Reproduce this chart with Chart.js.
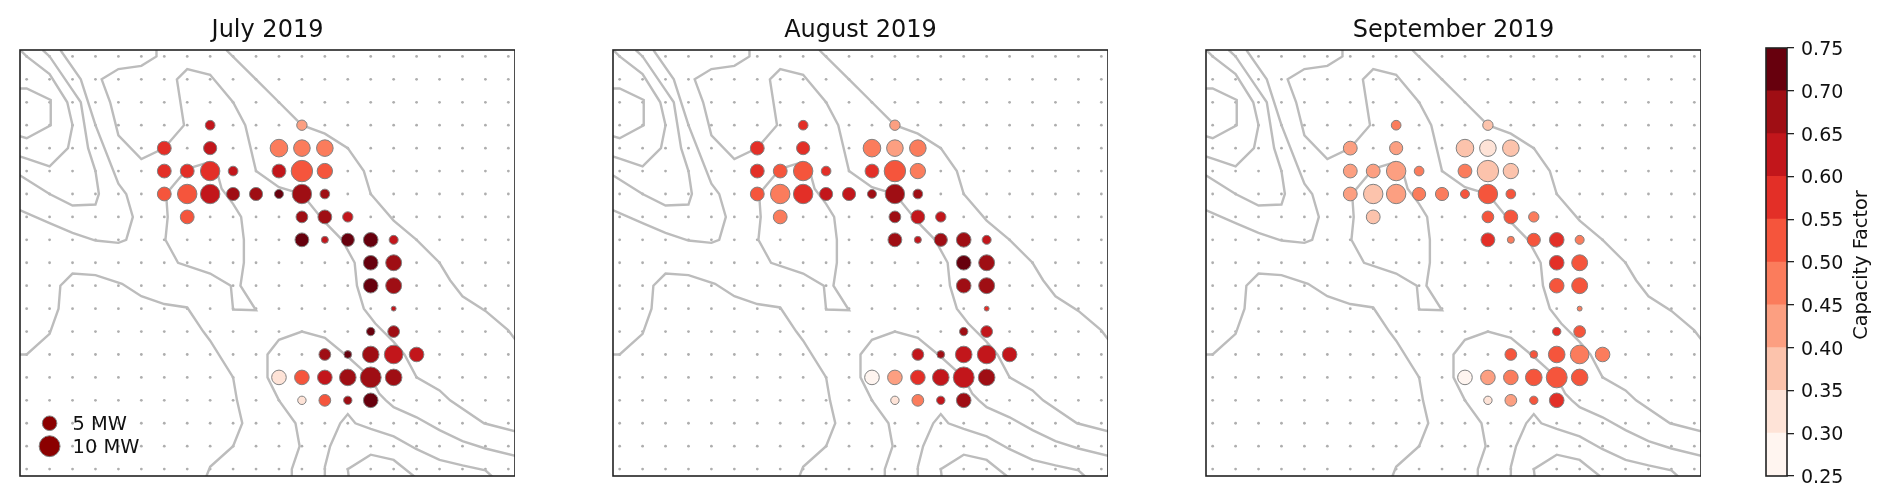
<!DOCTYPE html>
<html>
<head>
<meta charset="utf-8">
<title>Capacity Factor 2019</title>
<script src="https://cdn.jsdelivr.net/npm/chart.js@4"></script>
<style>
  html, body { margin: 0; padding: 0; background: #fff; overflow: hidden; }
  #wrap { position: relative; width: 1892px; height: 503px; }
  canvas { position: absolute; top: 0; }
</style>
</head>
<body>
<div id="wrap">
  <canvas id="julyChart" width="505" height="503" style="left:10px"></canvas>
  <canvas id="augustChart" width="505" height="503" style="left:603px"></canvas>
  <canvas id="septemberChart" width="505" height="503" style="left:1196px"></canvas>
  <canvas id="barChart" width="136" height="503" style="left:1756px"></canvas>
</div>

<script>
// ── Data ──────────────────────────────────────
const MONTH_TITLES = ['July 2019', 'August 2019', 'September 2019'];

// Grid cells of the weather model, in column / row units
const GRID_COLS = [0,1,2,3,4,5,6,7,8,9,10,11,12,13,14,15,16,17,18,19,20,21];
const GRID_ROWS = [0,1,2,3,4,5,6,7,8,9,10,11,12,13,14,15,16,17,18];

const SITE_COLS = [
  8,12,
  6,8,11,12,13,
  6,7,8,9,11,12,13,
  6,7,8,9,10,11,12,13,
  7,12,13,14,
  12,13,14,15,16,
  15,16,
  15,16,
  16,
  15,16,
  13,14,15,16,17,
  11,12,13,14,15,16,
  12,13,14,15
];
const SITE_ROWS = [
  3,3,
  4,4,4,4,4,
  5,5,5,5,5,5,5,
  6,6,6,6,6,6,6,6,
  7,7,7,7,
  8,8,8,8,8,
  9,9,
  10,10,
  11,
  12,12,
  13,13,13,13,13,
  14,14,14,14,14,14,
  15,15,15,15
];
const SITE_MW = [
  2.3,2.6,
  4.5,4.1,7.2,6.4,6.4,
  4.5,4.5,8.7,2.3,4.5,10.5,5.5,
  4.5,8.7,8.7,4.1,4.1,2.0,8.7,2.3,
  4.5,3.3,4.5,2.6,
  4.5,1.25,4.1,5,2,
  5,5.9,
  5,5.9,
  0.66,
  1.75,3.3,
  3.3,1.5,6.4,8,5,
  5,5,5,6.4,10,6.4,
  1.75,3.3,1.75,5
];

const CF_JULY = [
  .625,.425,
  .575,.625,.475,.475,.475,
  .575,.575,.575,.625,.625,.525,.525,
  .525,.525,.625,.675,.675,.725,.675,.675,
  .525,.675,.675,.625,
  .725,.625,.725,.725,.625,
  .725,.675,
  .725,.675,
  .625,
  .725,.675,
  .675,.725,.675,.625,.625,
  .325,.525,.625,.675,.675,.675,
  .325,.525,.675,.725
];
const CF_AUGUST = [
  .575,.425,
  .575,.575,.475,.425,.475,
  .575,.525,.525,.575,.575,.525,.475,
  .525,.475,.575,.625,.625,.675,.675,.675,
  .475,.675,.625,.625,
  .675,.625,.675,.675,.625,
  .725,.675,
  .675,.675,
  .575,
  .675,.625,
  .625,.675,.625,.625,.625,
  .275,.425,.575,.625,.625,.675,
  .325,.475,.625,.675
];
const CF_SEPTEMBER = [
  .475,.375,
  .425,.425,.375,.325,.375,
  .425,.425,.425,.475,.475,.375,.375,
  .425,.375,.425,.475,.475,.525,.525,.525,
  .375,.525,.525,.475,
  .575,.475,.525,.575,.475,
  .575,.525,
  .525,.525,
  .475,
  .575,.525,
  .525,.525,.525,.475,.475,
  .275,.425,.475,.525,.525,.525,
  .325,.425,.525,.575
];

const LEGEND_MW     = [5, 10];
const LEGEND_COLS   = [1, 1];
const LEGEND_ROWS   = [16, 17];
const LEGEND_LABELS = ['5 MW', '10 MW'];

// Terrain contours, [column, row]
const CONTOUR_1 = [[-0.3,1.4],[0,1.4],[1.05,1.9],[1.05,3],[0,3.57],[-0.3,3.48]];
const CONTOUR_2 = [[-0.3,-0.3],[0,0],[1,0.77],[1.77,2],[2,3],[1.8,4],[1,4.8],[0,4.46],[-0.3,4.36]];
const CONTOUR_3 = [[0.7,-0.28],[1,0],[2,1.47],[2.36,2],[2.68,4],[3,5],[3.15,6],[3,6.46],[2,6.5],[1,6],[-0.3,5.18]];
const CONTOUR_4 = [[1.47,-0.28],[2.36,1],[3,3],[4,5.55],[4.34,6],[4.63,7],[4.34,8],[4,8.13],[3,8.03],[2,7.7],[1,7.27],[-0.3,6.7]];
const CONTOUR_5 = [
  [5.66,-0.28],[5.66,0],[5,0.41],[4,0.55],[3.27,1],[3.64,2],[4,3.44],[5,4.48],[6,4],[6.86,3],[6.55,1],
  [7,0.55],[8,0.8],[9,2],[9.53,3],[10,5],[11,5.7],[12,6],[13,7.23],[13.75,8],[14.3,9],[14.4,10],
  [14.7,11],[15.2,11.65],[16,12.45],[16.47,13],[17,14],[18,14.57],[18.46,15],[19.94,16],[21.3,16.35]
];
const CONTOUR_6 = [
  [8.7,-0.28],[10,1],[11,2],[12,3],[13,3.37],[14,4],[14.7,5],[15,6],[16,7.16],[17,8],[18,9],
  [18.46,9.76],[19,10.46],[20,11.1],[21,11.95],[21.3,12.35]
];
const CONTOUR_7 = [
  [8,4.6],[7,4.9],[6.08,6],[6.15,7],[6.05,8],[6.6,9],[8,9.47],[8.9,10],[9,11.04],[10,11.07],[9.32,10],
  [9.47,9],[9.47,8],[9.35,7],[9,6.43],[8.5,5.77],[8.29,5],[8,4.6]
];
const CONTOUR_8 = [
  [-0.3,13],[0,13],[1,12.1],[1.39,11],[1.47,10],[2,9.47],[3,9.54],[4.16,9.92],[5,10.46],[6,10.8],
  [7,10.95],[7.7,12],[8,12.4],[9,14],[9.17,15],[9.4,16],[9,17],[8,17.9],[7.8,18.4]
];
const CONTOUR_9 = [
  [11.56,18.4],[11.56,18],[11.9,17],[11.72,16],[11,15],[10.5,14],[10.5,13],[11,12.36],[12,12],[13,12.27],
  [14,13.1],[15,14],[15.37,14.7],[15.66,15],[16,15.3],[17,15.74],[18,16.3],[19,16.78],[20,17.1],[21.3,17.42]
];
const CONTOUR_10 = [
  [12.98,18.4],[13,17.9],[13.23,17],[13.67,16],[14,15.6],[14.33,16],[15,16.24],[16,16.57],[17,17.13],
  [18,17.6],[19,17.84],[20,18.05],[20.38,18.4]
];
const CONTOUR_11 = [[14.05,18.4],[14,18],[15,17.37],[16,17.6],[17,18.4]];

// Colour bar bins
const CF_BOUNDS = [.25,.30,.35,.40,.45,.50,.55,.60,.65,.70,.75];
const CF_COLORS = [
  '#fff5f0','#fee3d7','#fcc3ac','#fc9f81','#fb7c5c',
  '#f5553c','#e32f27','#c2161b','#9f0e14','#67000d'
];
const CF_TICKS = ['0.25','0.30','0.35','0.40','0.45','0.50','0.55','0.60','0.65','0.70','0.75'];

// ── Style ─────────────────────────────────────
const FONT        = '"DejaVu Sans", sans-serif';
const TEXT_COLOR  = '#111';
const FRAME_COLOR = '#222';

const CONTOURS = [
  CONTOUR_1, CONTOUR_2, CONTOUR_3, CONTOUR_4, CONTOUR_5, CONTOUR_6,
  CONTOUR_7, CONTOUR_8, CONTOUR_9, CONTOUR_10, CONTOUR_11
];

Chart.defaults.font.family = FONT;
Chart.defaults.animation   = false;

// Marker area goes with MW, so diameter goes with its root
function mwRadius(mw) {
  return 3.4 * Math.sqrt(mw) - 0.3;
}

function cfColor(cf) {
  for (let i = 0; i < CF_COLORS.length; i++) {
    if (cf < CF_BOUNDS[i + 1]) return CF_COLORS[i];
  }
  return CF_COLORS[CF_COLORS.length - 1];
}

// ── Plugins ───────────────────────────────────
const framePlugin = {
  id: 'frame',
  afterDraw(chart) {
    const { ctx, chartArea: a } = chart;
    ctx.save();
    ctx.strokeStyle = FRAME_COLOR;
    ctx.lineWidth   = 1.6;
    ctx.strokeRect(a.left, a.top, a.right - a.left, a.bottom - a.top);
    ctx.restore();
  }
};

const sizeLabelPlugin = {
  id: 'sizeLabels',
  afterDatasetsDraw(chart) {
    const { ctx, scales } = chart;
    ctx.save();
    ctx.font         = '19.4px ' + FONT;
    ctx.fillStyle    = TEXT_COLOR;
    ctx.textBaseline = 'middle';
    LEGEND_LABELS.forEach((label, i) => {
      ctx.fillText(label,
        scales.x.getPixelForValue(LEGEND_COLS[i]) + 23,
        scales.y.getPixelForValue(LEGEND_ROWS[i]) + 2);
    });
    ctx.restore();
  }
};

const barLabelPlugin = {
  id: 'barLabel',
  afterDraw(chart) {
    const { ctx, chartArea: a } = chart;
    ctx.save();
    ctx.translate(1862 - 1756, (a.top + a.bottom) / 2 + 3);
    ctx.rotate(-Math.PI / 2);
    ctx.font         = '19.3px ' + FONT;
    ctx.fillStyle    = TEXT_COLOR;
    ctx.textAlign    = 'center';
    ctx.textBaseline = 'middle';
    ctx.fillText('Capacity Factor', 0, 0);
    ctx.restore();
  }
};

// ── Map Panels ────────────────────────────────
function buildPanel(canvasId, title, values, withLegend) {
  const dots = [];
  GRID_ROWS.forEach(r => GRID_COLS.forEach(c => dots.push({ x: c, y: r })));

  const datasets = [{
    type:            'bubble',
    order:           0,
    data:            SITE_COLS.map((c, i) => ({
      x: c, y: SITE_ROWS[i], r: mwRadius(SITE_MW[i])
    })),
    backgroundColor: values.map(cfColor),
    borderColor:     '#808080',
    borderWidth:     1,
  }];

  if (withLegend) {
    datasets.push({
      type:            'bubble',
      order:           0,
      data:            LEGEND_MW.map((mw, i) => ({
        x: LEGEND_COLS[i], y: LEGEND_ROWS[i], r: mwRadius(mw)
      })),
      backgroundColor: '#8b0000',
      borderColor:     '#808080',
      borderWidth:     1,
    });
  }

  CONTOURS.forEach(line => {
    datasets.push({
      type:        'scatter',
      order:       1,
      data:        line.map(p => ({ x: p[0], y: p[1] })),
      showLine:    true,
      borderColor: '#bcbcbc',
      borderWidth: 2.4,
      pointRadius: 0,
    });
  });

  datasets.push({
    type:            'scatter',
    order:           2,
    data:            dots,
    backgroundColor: '#aeaeae',
    pointRadius:     1.4,
    borderWidth:     0,
  });

  return new Chart(document.getElementById(canvasId).getContext('2d'), {
    data: { datasets },
    plugins: withLegend ? [framePlugin, sizeLabelPlugin] : [framePlugin],
    options: {
      responsive: false,
      layout:     { autoPadding: false, padding: { left: 10, right: 0, top: 0, bottom: 27 } },
      plugins:    {
        legend:  { display: false },
        tooltip: { enabled: false },
        title:   {
          display:  true,
          text:     title,
          color:    TEXT_COLOR,
          font:     { size: 24, weight: 'normal', lineHeight: 1.2 },
          padding:  { top: 16.5, bottom: 4.7 },
        }
      },
      scales: {
        x: { type: 'linear', display: false, min: -0.29, max: 21.29 },
        y: { type: 'linear', display: false, min: -0.28, max: 18.3, reverse: true },
      }
    }
  });
}

// ── Colour Bar ────────────────────────────────
function buildColorBar() {
  return new Chart(document.getElementById('barChart').getContext('2d'), {
    type: 'bar',
    data: {
      labels:   ['cf'],
      datasets: CF_COLORS.map((color, i) => ({
        data:            [[CF_BOUNDS[i], CF_BOUNDS[i + 1]]],
        backgroundColor: color,
        borderWidth:     0,
        barPercentage:   1,
        categoryPercentage: 1,
        grouped:         false,
      }))
    },
    plugins: [framePlugin, barLabelPlugin],
    options: {
      responsive: false,
      layout:     { padding: { left: 10, right: 0, top: 48, bottom: 27 } },
      plugins:    {
        legend:  { display: false },
        tooltip: { enabled: false },
      },
      scales: {
        x: { display: false },
        y: {
          position: 'right',
          min:      CF_BOUNDS[0],
          max:      CF_BOUNDS[CF_BOUNDS.length - 1],
          border:   { display: false },
          grid:     { drawOnChartArea: false, tickLength: 7, color: FRAME_COLOR, lineWidth: 1.3 },
          ticks:    {
            stepSize:    0.05,
            padding:     7,
            labelOffset: 2,
            color:       TEXT_COLOR,
            font:        { size: 19 },
            callback:    (v, i) => CF_TICKS[i],
          },
          afterFit: scale => { scale.width = 105; },
        }
      }
    }
  });
}

// ── Start ─────────────────────────────────────
buildPanel('julyChart',      MONTH_TITLES[0], CF_JULY,      true);
buildPanel('augustChart',    MONTH_TITLES[1], CF_AUGUST,    false);
buildPanel('septemberChart', MONTH_TITLES[2], CF_SEPTEMBER, false);
buildColorBar();
</script>
</body>
</html>
